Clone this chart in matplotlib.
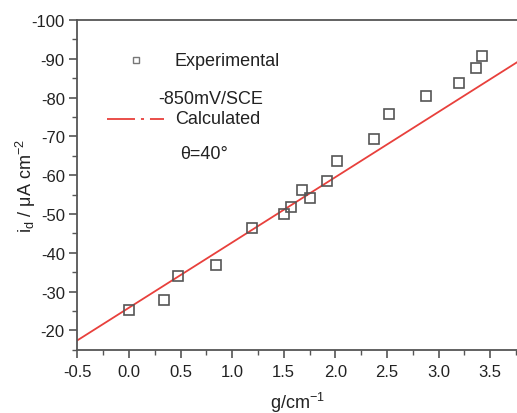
import matplotlib
matplotlib.use("Agg")
import matplotlib.pyplot as plt
from matplotlib.lines import Line2D
from matplotlib.ticker import MultipleLocator

plt.rcParams['font.family'] = ['Liberation Sans', 'DejaVu Sans']
plt.rcParams['mathtext.default'] = 'regular'
plt.rcParams['axes.unicode_minus'] = False

# measured diffusion current vs. g
g_exp = [0.0, 0.34, 0.48, 0.84, 1.19, 1.506, 1.568, 1.674, 1.755, 1.922,
         2.014, 2.375, 2.52, 2.879, 3.196, 3.364, 3.419]
id_exp = [-25.3, -27.9, -33.9, -36.8, -46.3, -50.0, -51.7, -56.05, -54.2, -58.4,
          -63.6, -69.4, -75.7, -80.3, -83.7, -87.7, -90.7]

# calculated line (theta = 40 deg)
g_calc = [-0.5, 3.76]
id_calc = [-17.4, -89.1]

W, H = 517, 414
fig = plt.figure(figsize=(W / 100, H / 100), dpi=100)
ax = fig.add_axes([77.3 / W, 1 - 350.7 / H, (W - 77.3) / W, (350.7 - 21) / H])

red = '#e8403c'
edge = '#555555'
dark = '#222222'

ax.plot(g_calc, id_calc, color=red, lw=1.3, zorder=2)
ax.plot(g_exp, id_exp, ls='none', marker='s', ms=7, mfc='none',
        mec=edge, mew=1.2, zorder=3)

ax.set_xlim(-0.5, 3.76)
ax.set_ylim(-15, -100)
ax.xaxis.set_major_locator(MultipleLocator(0.5))
ax.xaxis.set_minor_locator(MultipleLocator(0.25))
ax.set_yticks(range(-100, -19, 10))
ax.set_yticks(range(-95, -14, 5), minor=True)

for s in ['left', 'bottom', 'top']:
    ax.spines[s].set_color(edge)
    ax.spines[s].set_linewidth(1.3)
ax.spines['right'].set_visible(False)

ax.tick_params(which='major', direction='out', length=6, width=1.2,
               color=edge, labelsize=12, labelcolor=dark)
ax.tick_params(which='minor', direction='out', length=3.5, width=1.0, color=edge)
ax.tick_params(axis='y', which='major', pad=3)
ax.tick_params(axis='x', which='major', pad=4)
ax.tick_params(top=False, right=False, which='both')

ax.set_xlabel('g/cm$^{-1}$', fontsize=13, color=dark, labelpad=8)
fig.text(26 / W, 1 - 186 / H, '$i_d$ / μA cm$^{-2}$', fontsize=13, color=dark,
         rotation=90, ha='center', va='center')

# legend block
def px(x, y):
    return ((x - 77.3) / (W - 77.3), (350.7 - y) / (350.7 - 21))

tr = ax.transAxes
x0, y0 = px(136, 61)
ax.add_line(Line2D([x0], [y0], transform=tr, ls='none', marker='s', ms=4.5,
                   mfc='none', mec='#777777', mew=1.0))
xa, ya = px(107, 120)
xb, _ = px(164, 120)
ax.add_line(Line2D([xa, xb], [ya, ya], transform=tr, color=red, lw=1.3,
                   dashes=[15.5, 3.3, 1.7, 3.3]))

txt = dict(transform=tr, fontsize=13, color=dark, va='center', ha='left')
ax.text(*px(175, 61), 'Experimental', **txt)
ax.text(*px(158, 99), '-850mV/SCE', **txt)
ax.text(*px(175, 120), 'Calculated', **txt)
ax.text(*px(180, 155), 'θ=40°', **txt)

fig.savefig('out.png', dpi=100)
